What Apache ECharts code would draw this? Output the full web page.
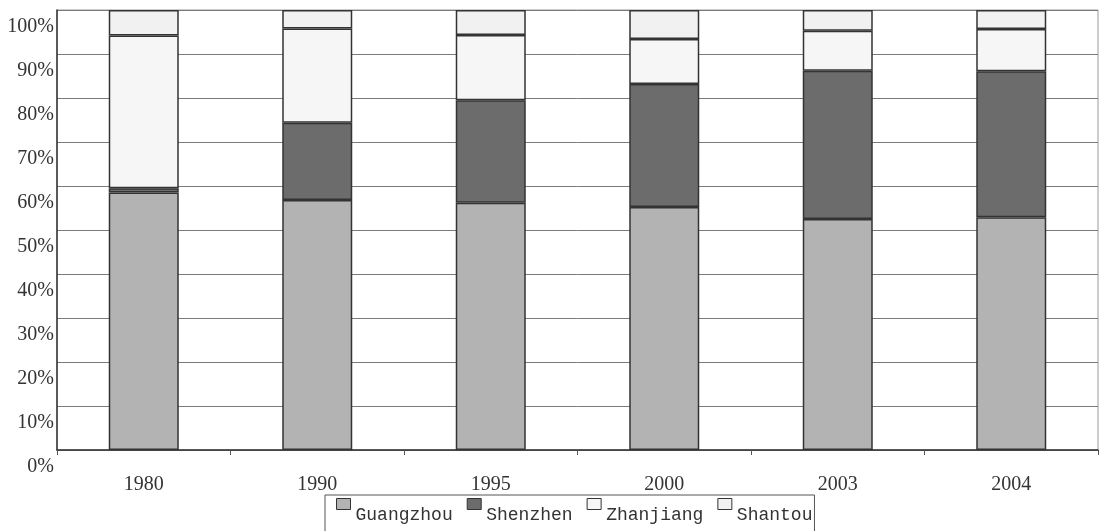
<!DOCTYPE html>
<html>
<head>
<meta charset="utf-8">
<style>
  html, body { margin: 0; padding: 0; background: #ffffff; }
  #chart { width: 1103px; height: 531px; }
</style>
<script src="https://cdn.jsdelivr.net/npm/echarts@6/dist/echarts.min.js"></script>
</head>
<body>
<div id="chart"></div>
<script>
// Share of each port city (%), stacked to 100 per year
const years = ['1980', '1990', '1995', '2000', '2003', '2004'];
const guangzhou = [58.5, 56.8, 56.2, 55.2, 52.5, 52.9];
const shenzhen  = [1.0, 17.6, 23.3, 28.0, 33.7, 33.2];
const zhanjiang = [34.7, 21.4, 14.8, 10.2, 9.1, 9.6];
const shantou   = [5.8, 4.2, 5.7, 6.6, 4.7, 4.3];
const seriesNames = ['Guangzhou', 'Shenzhen', 'Zhanjiang', 'Shantou'];
const yTicks = [0, 10, 20, 30, 40, 50, 60, 70, 80, 90, 100];

const fills = ['#b3b3b3', '#6c6c6c', '#f6f6f6', '#f1f1f1'];
const values = [guangzhou, shenzhen, zhanjiang, shantou];

const chart = echarts.init(document.getElementById('chart'));

const series = seriesNames.map((name, i) => ({
  name: name,
  type: 'bar',
  stack: 'total',
  barWidth: 70,
  data: values[i],
  itemStyle: {
    color: fills[i],
    borderColor: '#333333',
    borderWidth: 1.5
  },
  emphasis: { disabled: true }
}));

chart.setOption({
  animation: false,
  backgroundColor: '#ffffff',
  grid: {
    left: 57, right: 5, top: 10, bottom: 81,
    show: true,
    borderColor: '#9a9a9a',
    borderWidth: 1
  },
  legend: {
    data: seriesNames.map(n => ({ name: n, icon: 'rect' })),
    left: 325,
    top: 495,
    itemWidth: 14,
    itemHeight: 11,
    itemGap: 14,
    borderColor: '#555555',
    borderWidth: 1,
    padding: [3, 2, 20, 11],
    itemStyle: { borderColor: '#333333', borderWidth: 1 },
    formatter: name => '{t|' + name + '}',
    textStyle: {
      rich: {
        t: {
          fontFamily: 'Liberation Mono',
          fontSize: 18,
          color: '#333333',
          padding: [22, 0, 0, 0]
        }
      }
    }
  },
  xAxis: {
    type: 'category',
    data: years,
    axisLine: { lineStyle: { color: '#333333', width: 1.5 } },
    axisTick: { show: true, length: 5, lineStyle: { color: '#555555' } },
    axisLabel: {
      fontFamily: 'Liberation Serif',
      fontSize: 20,
      color: '#333333',
      margin: 25
    }
  },
  yAxis: {
    type: 'value',
    min: 0,
    max: 100,
    interval: 10,
    axisLine: { show: true, lineStyle: { color: '#333333', width: 1.5 } },
    axisTick: { show: false },
    splitLine: { lineStyle: { color: '#7a7a7a', width: 1 } },
    axisLabel: {
      fontFamily: 'Liberation Serif',
      fontSize: 20,
      color: '#333333',
      margin: 3,
      verticalAlign: 'top',
      padding: [7, 0, 0, 0],
      formatter: v => (yTicks.includes(v) ? v + '%' : '')
    }
  },
  series: series
});
</script>
</body>
</html>
